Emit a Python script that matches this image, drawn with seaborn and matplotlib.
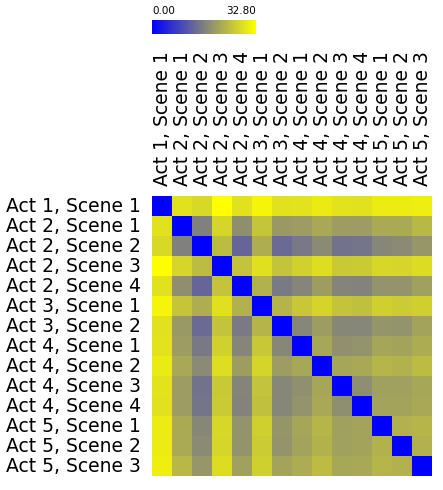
import numpy as np
import pandas as pd
import matplotlib
matplotlib.use("Agg")
import matplotlib.pyplot as plt
import seaborn as sb
from matplotlib.colors import LinearSegmentedColormap

scenes = ["Act 1, Scene 1", "Act 2, Scene 1", "Act 2, Scene 2", "Act 2, Scene 3",
          "Act 2, Scene 4", "Act 3, Scene 1", "Act 3, Scene 2", "Act 4, Scene 1",
          "Act 4, Scene 2", "Act 4, Scene 3", "Act 4, Scene 4", "Act 5, Scene 1",
          "Act 5, Scene 2", "Act 5, Scene 3"]

# upper triangle of the distance matrix, row by row (right of the diagonal)
row_0 = [28.9, 27.8, 32.8, 28.9, 31.5, 28.9, 29.0, 30.2, 29.2, 28.9, 30.3, 30.3, 30.6]
row_1 = [16.4, 27.3, 18.4, 25.3, 19.7, 20.1, 21.6, 20.0, 20.0, 21.9, 21.8, 23.6]
row_2 = [24.2, 13.0, 22.3, 13.7, 15.4, 17.8, 14.7, 15.1, 17.4, 17.8, 19.3]
row_3 = [25.0, 28.8, 25.0, 26.8, 28.5, 25.8, 26.0, 27.6, 27.3, 28.2]
row_4 = [22.7, 15.7, 17.1, 20.2, 17.0, 16.8, 18.9, 18.9, 20.6]
row_5 = [23.1, 25.6, 27.2, 25.1, 24.7, 26.6, 26.1, 26.6]
row_6 = [17.4, 20.0, 17.4, 17.2, 19.2, 18.9, 21.0]
row_7 = [21.4, 18.5, 18.9, 21.3, 21.0, 22.1]
row_8 = [21.3, 21.6, 23.2, 22.9, 24.2]
row_9 = [18.2, 20.6, 20.6, 21.4]
row_10 = [20.9, 20.9, 21.6]
row_11 = [22.7, 23.3]
row_12 = [22.7]
upper = [row_0, row_1, row_2, row_3, row_4, row_5, row_6, row_7, row_8, row_9,
         row_10, row_11, row_12]

n = len(scenes)
dist = np.zeros((n, n))
for i, r in enumerate(upper):
    dist[i, i + 1:] = r
dist = dist + dist.T
df = pd.DataFrame(dist, index=scenes, columns=scenes)

W, H = 443, 490
fig = plt.figure(figsize=(W / 100, H / 100), dpi=100)
ax = fig.add_axes([152 / W, (H - 476) / H, 280 / W, 280 / H])
cax = fig.add_axes([152 / W, (H - 34) / H, 104 / W, 14 / H])

cmap = LinearSegmentedColormap.from_list("blue_yellow", ["#0000ff", "#ffff00"])
sb.heatmap(df, ax=ax, cmap=cmap, vmin=0, vmax=32.8, cbar_ax=cax,
           cbar_kws={"orientation": "horizontal"})

ax.xaxis.tick_top()
ax.set_xticklabels(scenes, rotation=90, fontsize=13.5)
ax.set_yticklabels(scenes, rotation=0, fontsize=13.5)
ax.tick_params(axis="y", length=0, pad=8)
ax.tick_params(axis="x", length=0, pad=7)
ax.set_xlabel("")
ax.set_ylabel("")

cax.xaxis.set_ticks_position("top")
cax.set_xticks([0, 32.8])
cax.set_xticklabels(["0.00", "32.80"], fontsize=7.5)
cax.tick_params(length=0, pad=3)
labs = cax.get_xticklabels()
labs[0].set_ha("left")
labs[1].set_ha("right")
for s in cax.spines.values():
    s.set_visible(False)

plt.savefig("out.png", dpi=100)
